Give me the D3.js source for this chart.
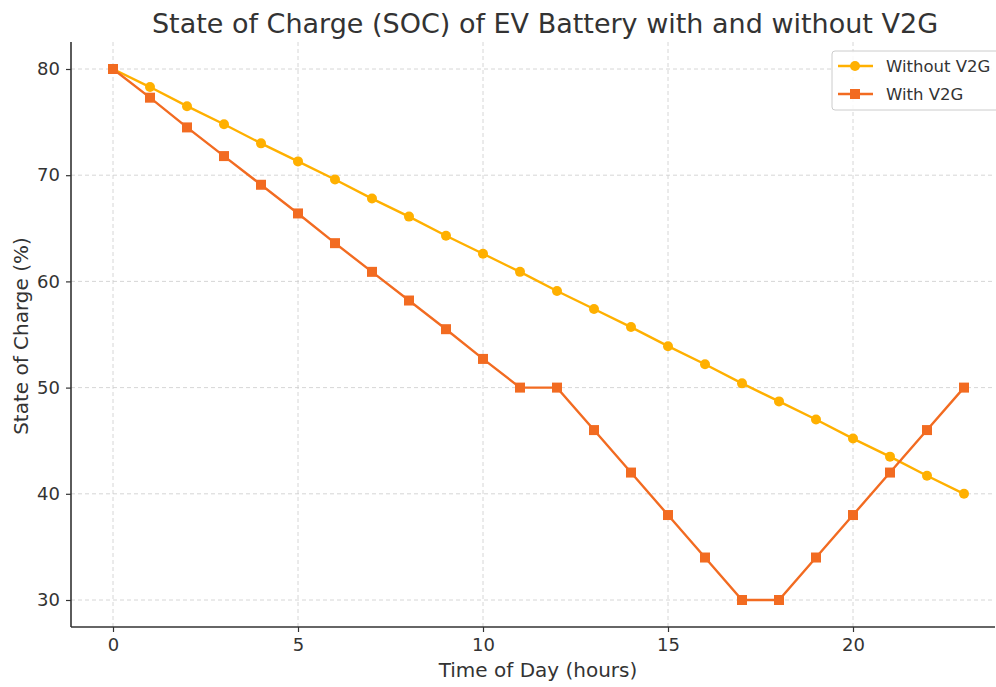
<!DOCTYPE html>
<html><head><meta charset="utf-8">
<script src="https://cdn.jsdelivr.net/npm/d3@7"></script>
<style>body{margin:0;background:#fff}svg{display:block}</style>
</head><body>
<svg id="c" width="996" height="687"></svg>
<script>
const hours = [0,1,2,3,4,5,6,7,8,9,10,11,12,13,14,15,16,17,18,19,20,21,22,23];
const withoutV2G = [80,78.3,76.5,74.8,73.0,71.3,69.6,67.8,66.1,64.3,62.6,60.9,59.1,57.4,55.7,53.9,52.2,50.4,48.7,47.0,45.2,43.5,41.7,40.0];
const withV2G = [80,77.3,74.5,71.8,69.1,66.4,63.6,60.9,58.2,55.5,52.7,50,50,46,42,38,34,30,30,34,38,42,46,50];
const xTicks = [0,5,10,15,20];
const yTicks = [30,40,50,60,70,80];
const seriesNames = ["Without V2G","With V2G"];
const colors = ["#FFB000","#F26B21"];

const svg = d3.select("#c");
const L=71,R=995,T=42,B=627;
const x = d3.scaleLinear().domain([0,20]).range([113,853]);
const y = d3.scaleLinear().domain([30,80]).range([600,69]);
const font = "DejaVu Sans, sans-serif";

// grid
svg.append("g").selectAll("line").data(xTicks).join("line")
  .attr("x1",d=>x(d)).attr("x2",d=>x(d)).attr("y1",T).attr("y2",B)
  .attr("stroke","#cccccc").attr("stroke-dasharray","4,3").attr("stroke-width",0.8);
svg.append("g").selectAll("line").data(yTicks).join("line")
  .attr("x1",L).attr("x2",R).attr("y1",d=>y(d)).attr("y2",d=>y(d))
  .attr("stroke","#cccccc").attr("stroke-dasharray","4,3").attr("stroke-width",0.8);

// axes
const xa = svg.append("g").attr("transform",`translate(0,${B})`)
  .call(d3.axisBottom(x).tickValues(xTicks).tickSize(5).tickPadding(6));
const ya = svg.append("g").attr("transform",`translate(${L},0)`)
  .call(d3.axisLeft(y).tickValues(yTicks).tickSize(5).tickPadding(6));
[xa,ya].forEach(a=>{
  a.select(".domain").remove();
  a.selectAll("line").attr("stroke","#333").attr("stroke-width",1.2);
  a.selectAll("text").attr("font-family",font).attr("font-size",18).attr("fill","#333");
});
svg.append("line").attr("x1",L).attr("x2",L).attr("y1",T).attr("y2",B).attr("stroke","#333").attr("stroke-width",1.6);
svg.append("line").attr("x1",L).attr("x2",R).attr("y1",B).attr("y2",B).attr("stroke","#333").attr("stroke-width",1.6);

// lines
const line = d3.line().x((d,i)=>x(hours[i])).y(d=>y(d));
svg.append("path").datum(withoutV2G).attr("d",line).attr("fill","none").attr("stroke",colors[0]).attr("stroke-width",2.4);
svg.append("g").selectAll("circle").data(withoutV2G).join("circle")
  .attr("cx",(d,i)=>x(hours[i])).attr("cy",d=>y(d)).attr("r",5).attr("fill",colors[0]);
svg.append("path").datum(withV2G).attr("d",line).attr("fill","none").attr("stroke",colors[1]).attr("stroke-width",2.4);
svg.append("g").selectAll("rect").data(withV2G).join("rect")
  .attr("x",(d,i)=>x(hours[i])-5).attr("y",d=>y(d)-5).attr("width",10).attr("height",10).attr("fill",colors[1]);

// title & labels
svg.append("text").attr("x",545).attr("y",33).attr("text-anchor","middle")
  .attr("font-family",font).attr("font-size",27).attr("fill","#333")
  .text("State of Charge (SOC) of EV Battery with and without V2G");
svg.append("text").attr("x",538).attr("y",677).attr("text-anchor","middle")
  .attr("font-family",font).attr("font-size",20).attr("fill","#333").text("Time of Day (hours)");
svg.append("text").attr("transform",`translate(28,336) rotate(-90)`).attr("text-anchor","middle")
  .attr("font-family",font).attr("font-size",20).attr("fill","#333").text("State of Charge (%)");

// legend
const lg = svg.append("g").attr("transform","translate(832,51)");
lg.append("rect").attr("width",170).attr("height",59).attr("rx",3).attr("fill","#fff").attr("fill-opacity",0.85)
  .attr("stroke","#ccc");
seriesNames.forEach((n,i)=>{
  const yy = 15+ i*28;
  lg.append("line").attr("x1",6).attr("x2",41).attr("y1",yy).attr("y2",yy).attr("stroke",colors[i]).attr("stroke-width",2.4);
  if(i===0) lg.append("circle").attr("cx",23).attr("cy",yy).attr("r",5).attr("fill",colors[i]);
  else lg.append("rect").attr("x",18).attr("y",yy-5).attr("width",10).attr("height",10).attr("fill",colors[i]);
  lg.append("text").attr("x",54).attr("y",yy+6).attr("font-family",font).attr("font-size",16.5).attr("fill","#333").text(n);
});
</script>
</body></html>
